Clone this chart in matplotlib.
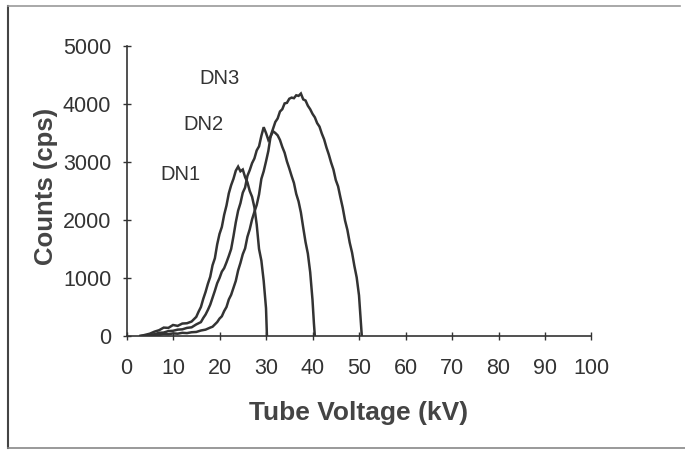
import matplotlib
matplotlib.use("Agg")
import matplotlib.pyplot as plt
from matplotlib.lines import Line2D

plt.rcParams['font.family'] = ['Liberation Sans', 'DejaVu Sans']

# ---- data ----
dn1_kv = [3, 4, 5, 6, 7, 8, 9, 10, 11, 12, 13, 14, 15, 15.5, 16, 16.5, 17, 17.5,
          18, 18.5, 19, 19.5, 20, 20.5, 21, 21.5, 22, 22.5, 23, 23.5, 24, 24.5,
          25, 25.5, 26, 26.5, 27, 27.5, 28, 28.5, 29, 29.5, 30, 30.2]
dn1_cps = [0, 20, 40, 75, 100, 145, 140, 190, 175, 215, 220, 250, 330, 420, 500,
           640, 760, 900, 1020, 1220, 1340, 1580, 1760, 1880, 2090, 2250, 2460,
           2600, 2710, 2850, 2920, 2840, 2870, 2740, 2650, 2500, 2400, 2220, 1920,
           1500, 1300, 950, 480, 0]

dn2_kv = [3, 4, 5, 6, 7, 8, 9, 10, 11, 12, 13, 14, 15, 16, 16.5, 17, 17.5, 18,
          18.5, 19, 19.5, 20, 20.5, 21, 21.5, 22, 22.5, 23, 23.5, 24, 24.5, 25,
          25.5, 26, 26.5, 27, 27.5, 28, 28.5, 29, 29.5, 30, 30.5, 31, 31.5, 32,
          32.5, 33, 33.5, 34, 34.5, 35, 35.5, 36, 36.5, 37, 37.5, 38, 38.5, 39,
          39.5, 40, 40.3, 40.5]
dn2_cps = [0, 5, 20, 30, 55, 60, 85, 90, 110, 115, 140, 150, 200, 240, 310, 370,
           450, 540, 660, 780, 910, 1000, 1110, 1170, 1270, 1380, 1500, 1720,
           1960, 2160, 2290, 2470, 2560, 2760, 2860, 2980, 3060, 3200, 3270, 3450,
           3600, 3500, 3380, 3440, 3530, 3500, 3460, 3380, 3260, 3160, 3010, 2890,
           2760, 2640, 2450, 2320, 2130, 1870, 1620, 1420, 1100, 620, 220, 0]

dn3_kv = [3, 4, 5, 6, 7, 8, 9, 10, 11, 12, 13, 14, 15, 16, 17, 18, 18.5, 19,
          19.5, 20, 20.5, 21, 21.5, 22, 22.5, 23, 23.5, 24, 24.5, 25, 25.5, 26,
          26.5, 27, 27.5, 28, 28.5, 29, 29.5, 30, 30.5, 31, 31.5, 32, 32.5, 33,
          33.5, 34, 34.5, 35, 35.5, 36, 36.5, 37, 37.5, 38, 38.5, 39, 39.5, 40,
          40.5, 41, 41.5, 42, 42.5, 43, 43.5, 44, 44.5, 45, 45.5, 46, 46.5, 47,
          47.5, 48, 48.5, 49, 49.5, 50, 50.3, 50.6]
dn3_cps = [0, 5, 10, 20, 20, 35, 30, 45, 40, 55, 50, 65, 70, 95, 110, 145, 160,
           200, 240, 300, 340, 430, 500, 630, 710, 830, 950, 1130, 1260, 1410,
           1510, 1710, 1840, 2010, 2140, 2260, 2440, 2710, 2840, 3010, 3190, 3450,
           3570, 3690, 3750, 3870, 3910, 4010, 4020, 4090, 4110, 4100, 4150, 4140,
           4180, 4080, 4060, 3970, 3910, 3830, 3770, 3670, 3610, 3490, 3390, 3250,
           3130, 2990, 2870, 2690, 2580, 2390, 2210, 1990, 1830, 1610, 1440, 1210,
           1010, 700, 350, 0]

labels = ['DN1', 'DN2', 'DN3']
label_x = [11.7, 16.5, 19.9]
label_y = [2776, 3655, 4431]

x_ticks = [0, 10, 20, 30, 40, 50, 60, 70, 80, 90, 100]
y_ticks = [0, 1000, 2000, 3000, 4000, 5000]

# ---- figure ----
fig = plt.figure(figsize=(6.85, 4.5), dpi=100)
ax = fig.add_axes([0.1847, 0.2533, 0.8635 - 0.1847, 0.8978 - 0.2533])

line_col = '#333333'
for kv, cps in [(dn1_kv, dn1_cps), (dn2_kv, dn2_cps), (dn3_kv, dn3_cps)]:
    ax.plot(kv, cps, color=line_col, lw=1.8, solid_joinstyle='miter')

for t, x, y in zip(labels, label_x, label_y):
    ax.text(x, y, t, ha='center', va='center', fontsize=14.5, color='#333333')

ax.set_xlim(0, 100)
ax.set_ylim(0, 5000)
ax.set_xticks(x_ticks)
ax.set_yticks(y_ticks)
ax.tick_params(axis='both', direction='inout', length=6, width=1.0,
               colors='#333333', labelsize=15.5, labelcolor='#333333')
ax.tick_params(axis='x', pad=13)
ax.tick_params(axis='y', pad=8)
for s in ['top', 'right']:
    ax.spines[s].set_visible(False)
for s in ['left', 'bottom']:
    ax.spines[s].set_color('#333333')
    ax.spines[s].set_linewidth(1.2)

ax.set_xlabel('Tube Voltage (kV)', fontsize=19, fontweight='bold', color='#444444')
ax.set_ylabel('Counts (cps)', fontsize=18.5, fontweight='bold', color='#444444')
ax.xaxis.set_label_coords(0.5, -0.225)
ax.yaxis.set_label_coords(-0.147, 0.515)

# outer frame (left, top, bottom)
fig.add_artist(Line2D([7.5 / 685, 7.5 / 685], [1 - 6 / 450, 1 - 448 / 450],
                      transform=fig.transFigure, color='#444444', lw=1.5))
fig.add_artist(Line2D([7.5 / 685, 680 / 685], [1 - 6 / 450, 1 - 6 / 450],
                      transform=fig.transFigure, color='#9a9a9a', lw=1.2))
fig.add_artist(Line2D([7.5 / 685, 685 / 685], [1 - 448 / 450, 1 - 448 / 450],
                      transform=fig.transFigure, color='#888888', lw=1.2))

fig.savefig('out.png', dpi=100)
